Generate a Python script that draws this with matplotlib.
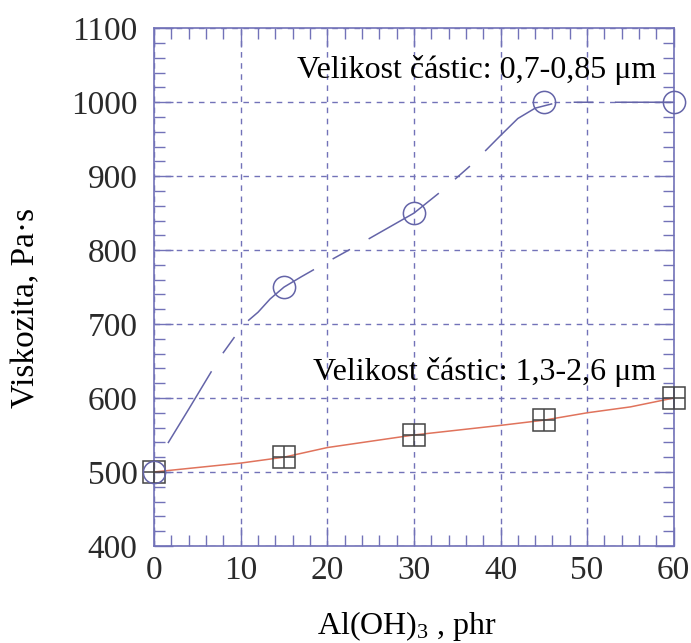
import matplotlib.pyplot as plt
from matplotlib.ticker import MultipleLocator

plt.rcParams['font.family'] = ['Liberation Serif', 'DejaVu Serif']
plt.rcParams['mathtext.fontset'] = 'custom'
plt.rcParams['mathtext.rm'] = 'Liberation Serif'
plt.rcParams['mathtext.it'] = 'Liberation Serif:italic'

# measured points
x_pts = [0, 15, 30, 45, 60]
fine_pts = [500, 750, 850, 1000, 1000]      # 0,7-0,85 um
coarse_pts = [500, 520, 550, 570, 600]      # 1,3-2,6 um

# curves
fine_cx = [1.6, 4, 7.6, 10.3, 12, 13.4, 15, 17, 20, 23.4, 26.7, 30, 33.2,
           36.7, 40, 42, 44, 46, 48, 50, 55, 60]
fine_cy = [539, 585, 655, 699, 716, 734, 750, 764, 784, 806, 828, 850, 880,
           916, 955, 978, 992, 998, 1000, 1000, 1000, 1000]
coarse_cx = [0, 10, 15, 20, 30, 40, 45, 50, 55, 60]
coarse_cy = [500, 512, 520, 533, 550, 563, 570, 580, 588, 600]

frame = '#7272b8'
blue = '#6464a8'
red = '#e0735c'

fig = plt.figure(figsize=(6.91, 6.43), dpi=100)
ax = fig.add_axes([0.223, 0.151, 0.752, 0.805])

line, = ax.plot(fine_cx, fine_cy, color=blue, lw=1.1)
line.set_dashes([55, 14, 13, 14])
ax.plot(coarse_cx, coarse_cy, color=red, lw=1.1)

# markers
ax.plot(x_pts, coarse_pts, ls='none', marker='s', ms=16, mfc='none',
        mec='#444444', mew=1.1, clip_on=False, zorder=5)
ax.plot(x_pts, coarse_pts, ls='none', marker='+', ms=16,
        mec='#444444', mew=1.1, clip_on=False, zorder=5)
ax.plot(x_pts, fine_pts, ls='none', marker='o', ms=16, mfc='none',
        mec=blue, mew=1.1, clip_on=False, zorder=6)

ax.set_xlim(0, 60)
ax.set_ylim(400, 1100)
ax.xaxis.set_major_locator(MultipleLocator(10))
ax.xaxis.set_minor_locator(MultipleLocator(2))
ax.yaxis.set_major_locator(MultipleLocator(100))
ax.yaxis.set_minor_locator(MultipleLocator(20))

ax.grid(True, which='major', color=frame, ls=(0, (4, 4)), lw=1)
for s in ax.spines.values():
    s.set_color(frame)
    s.set_linewidth(1.2)
ax.tick_params(which='both', direction='in', top=True, right=True,
               color=frame, labelsize=24, labelcolor='#2a2a2a')
ax.tick_params(which='major', length=14, width=1)
ax.tick_params(which='minor', length=8, width=1)
ax.tick_params(axis='x', pad=7)
ax.tick_params(axis='y', pad=12)

ax.text(58, 1043, 'Velikost částic: 0,7-0,85 μm', ha='right', va='center',
        fontsize=23)
ax.text(58, 635, 'Velikost částic: 1,3-2,6 μm', ha='right', va='center',
        fontsize=23)

fig.text(26 / 691, 1 - 308 / 643, 'Viskozita, Pa·s', rotation=90,
         ha='center', va='center', fontsize=24)
fig.text(407 / 691, 1 - 634 / 643, 'Al(OH)$_3$ , phr', ha='center',
         va='baseline', fontsize=23)

fig.savefig('out.png', dpi=100)
